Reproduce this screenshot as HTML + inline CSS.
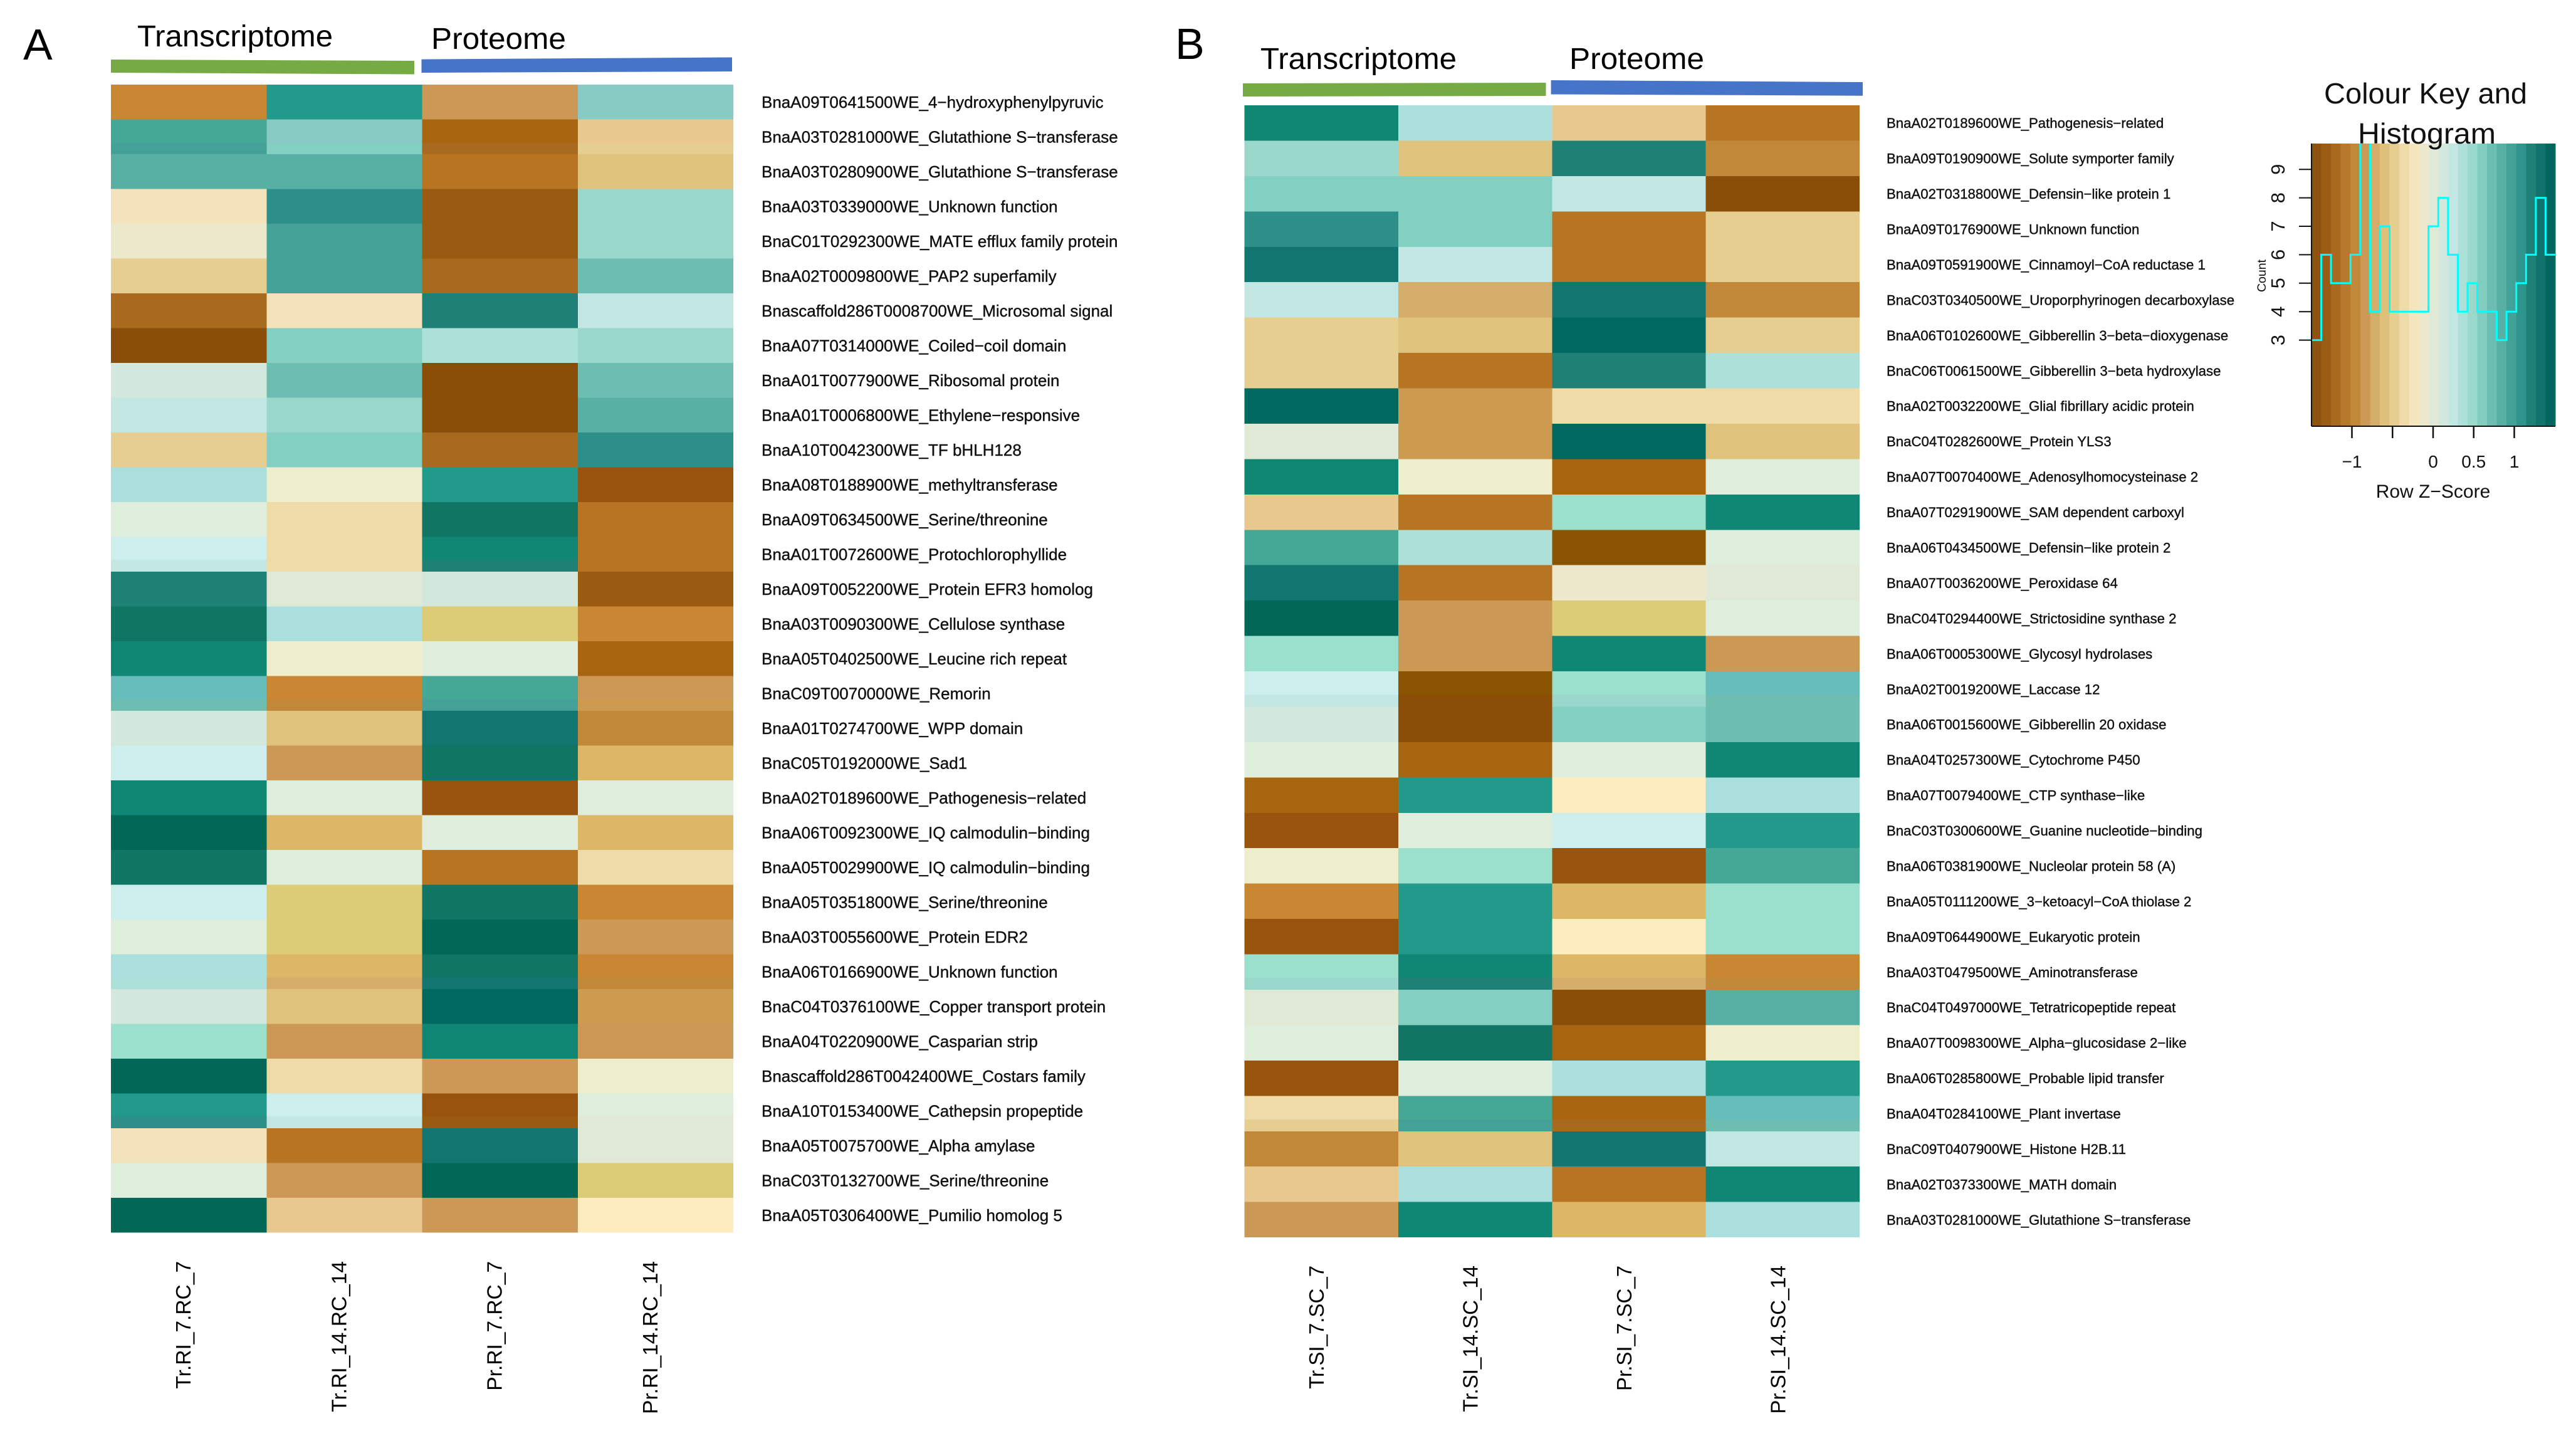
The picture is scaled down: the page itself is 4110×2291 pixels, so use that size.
<!DOCTYPE html>
<html lang="en">
<head>
<meta charset="utf-8">
<title>Transcriptome and proteome heatmaps</title>
<style>
html,body{margin:0;padding:0;background:#fff;width:4110px;height:2291px;overflow:hidden}
svg{display:block;font-family:"Liberation Sans",sans-serif}
</style>
</head>
<body>
<svg id="figure" xmlns="http://www.w3.org/2000/svg" width="4110" height="2291" viewBox="0 0 4110 2291">
  <rect x="0" y="0" width="4110" height="2291" fill="#ffffff"/>
  <text x="37" y="95" font-size="70" fill="#000">A</text>
  <text x="1875" y="94" font-size="70" fill="#000">B</text>

  <text x="219" y="74" font-size="48" textLength="312" lengthAdjust="spacingAndGlyphs" fill="#000">Transcriptome</text>
  <text x="688" y="78" font-size="48" textLength="215" lengthAdjust="spacingAndGlyphs" fill="#000">Proteome</text>
  <polygon points="177,95 661,97 661,118.5 177,116" fill="#76aa45"/>
  <polygon points="672.5,94.6 1168,91.5 1168,114 672.5,116" fill="#4674c8"/>

  <text x="2011" y="110" font-size="48" textLength="313" lengthAdjust="spacingAndGlyphs" fill="#000">Transcriptome</text>
  <text x="2504" y="110" font-size="48" textLength="215" lengthAdjust="spacingAndGlyphs" fill="#000">Proteome</text>
  <polygon points="1983,133 2466.5,132 2466.5,153 1983,154" fill="#76aa45"/>
  <polygon points="2474.6,128 2972,131 2972,152.7 2474.6,150.5" fill="#4674c8"/>

  <g id="panel-a"></g>
  <g id="panel-b"></g>
  <g id="colour-key"></g>
</svg>
<script>
// Panel A data: row z-scores per sample
const rowLabelsA = ["BnaA09T0641500WE_4−hydroxyphenylpyruvic","BnaA03T0281000WE_Glutathione S−transferase","BnaA03T0280900WE_Glutathione S−transferase","BnaA03T0339000WE_Unknown function","BnaC01T0292300WE_MATE efflux family protein","BnaA02T0009800WE_PAP2 superfamily","Bnascaffold286T0008700WE_Microsomal signal","BnaA07T0314000WE_Coiled−coil domain","BnaA01T0077900WE_Ribosomal protein","BnaA01T0006800WE_Ethylene−responsive","BnaA10T0042300WE_TF bHLH128","BnaA08T0188900WE_methyltransferase","BnaA09T0634500WE_Serine/threonine","BnaA01T0072600WE_Protochlorophyllide","BnaA09T0052200WE_Protein EFR3 homolog","BnaA03T0090300WE_Cellulose synthase","BnaA05T0402500WE_Leucine rich repeat","BnaC09T0070000WE_Remorin","BnaA01T0274700WE_WPP domain","BnaC05T0192000WE_Sad1","BnaA02T0189600WE_Pathogenesis−related","BnaA06T0092300WE_IQ calmodulin−binding","BnaA05T0029900WE_IQ calmodulin−binding","BnaA05T0351800WE_Serine/threonine","BnaA03T0055600WE_Protein EDR2","BnaA06T0166900WE_Unknown function","BnaC04T0376100WE_Copper transport protein","BnaA04T0220900WE_Casparian strip","Bnascaffold286T0042400WE_Costars family","BnaA10T0153400WE_Cathepsin propeptide","BnaA05T0075700WE_Alpha amylase","BnaC03T0132700WE_Serine/threonine","BnaA05T0306400WE_Pumilio homolog 5"];
const sampleLabelsA = ["Tr.RI_7.RC_7","Tr.RI_14.RC_14","Pr.RI_7.RC_7","Pr.RI_14.RC_14"];
const trRi7 = [-.95,.88,.82,-.29,-.10,-.49,-1.14,-1.47,.10,.23,-.49,.29,.03,.16,1.14,1.34,1.21,.75,.10,.16,1.21,1.47,1.34,.16,.03,.29,.10,.42,1.47,1.08,-.29,.03,1.47];
const trRi14 = [1.08,.55,.82,1.01,.95,.95,-.29,.62,.68,.49,.62,-.16,-.36,-.36,-.03,.29,-.16,-.95,-.55,-.88,.03,-.68,.03,-.62,-.62,-.68,-.55,-.88,-.36,.16,-1.08,-.88,-.42];
const prRi7 = [-.88,-1.21,-1.08,-1.27,-1.27,-1.14,1.14,.36,-1.47,-1.47,-1.14,1.08,1.34,1.21,.10,-.62,.03,.88,1.27,1.34,-1.34,.03,-1.08,1.34,1.47,1.34,1.40,1.21,-.88,-1.34,1.27,1.47,-.88];
const prRi14 = [.55,-.42,-.55,.49,.49,.68,.23,.49,.68,.82,1.01,-1.34,-1.08,-1.08,-1.27,-.95,-1.21,-.88,-1.01,-.68,.03,-.68,-.36,-.95,-.88,-.95,-.82,-.88,-.16,.03,-.03,-.62,-.23];
// Lower-third bands that shift within a row in panel A
const bandRowsA = [1,13,17,25,29];
const bandTrRi7 = [.95,.23,.68,.36,1.01];
const bandTrRi14 = [.62,-.36,-1.01,-.75,.23];
const bandPrRi7 = [-1.14,1.14,.95,1.27,-1.27];
const bandPrRi14 = [-.49,-1.08,-.82,-1.01,-.03];

// Panel B data
const rowLabelsB = ["BnaA02T0189600WE_Pathogenesis−related","BnaA09T0190900WE_Solute symporter family","BnaA02T0318800WE_Defensin−like protein 1","BnaA09T0176900WE_Unknown function","BnaA09T0591900WE_Cinnamoyl−CoA reductase 1","BnaC03T0340500WE_Uroporphyrinogen decarboxylase","BnaA06T0102600WE_Gibberellin 3−beta−dioxygenase","BnaC06T0061500WE_Gibberellin 3−beta hydroxylase","BnaA02T0032200WE_Glial fibrillary acidic protein","BnaC04T0282600WE_Protein YLS3","BnaA07T0070400WE_Adenosylhomocysteinase 2","BnaA07T0291900WE_SAM dependent carboxyl","BnaA06T0434500WE_Defensin−like protein 2","BnaA07T0036200WE_Peroxidase 64","BnaC04T0294400WE_Strictosidine synthase 2","BnaA06T0005300WE_Glycosyl hydrolases","BnaA02T0019200WE_Laccase 12","BnaA06T0015600WE_Gibberellin 20 oxidase","BnaA04T0257300WE_Cytochrome P450","BnaA07T0079400WE_CTP synthase−like","BnaC03T0300600WE_Guanine nucleotide−binding","BnaA06T0381900WE_Nucleolar protein 58 (A)","BnaA05T0111200WE_3−ketoacyl−CoA thiolase 2","BnaA09T0644900WE_Eukaryotic protein","BnaA03T0479500WE_Aminotransferase","BnaC04T0497000WE_Tetratricopeptide repeat","BnaA07T0098300WE_Alpha−glucosidase 2−like","BnaA06T0285800WE_Probable lipid transfer","BnaA04T0284100WE_Plant invertase","BnaC09T0407900WE_Histone H2B.11","BnaA02T0373300WE_MATH domain","BnaA03T0281000WE_Glutathione S−transferase"];
const sampleLabelsB = ["Tr.SI_7.SC_7","Tr.SI_14.SC_14","Pr.SI_7.SC_7","Pr.SI_14.SC_14"];
const trSi7 = [1.21,.49,.62,1.01,1.27,.23,-.49,-.49,1.40,-.03,1.21,-.42,.88,1.27,1.47,.42,.16,.10,.03,-1.21,-1.34,-.16,-.95,-1.34,.42,-.03,.03,-1.34,-.36,-1.01,-.42,-.88];
const trSi14 = [.29,-.55,.62,.62,.23,-.75,-.55,-1.08,-.82,-.82,-.16,-1.08,.36,-1.08,-.88,-.88,-1.40,-1.47,-1.21,1.08,.03,.42,1.08,1.08,1.21,.62,1.34,.03,.88,-.55,.29,1.21];
const prSi7 = [-.42,1.14,.23,-1.08,-1.08,1.27,1.40,1.14,-.36,1.40,-1.21,.42,-1.40,-.10,-.62,1.21,.42,.62,.03,-.23,.16,-1.34,-.68,-.23,-.68,-1.47,-1.21,.29,-1.21,1.27,-1.08,-.68];
const prSi14 = [-1.08,-1.01,-1.47,-.49,-.49,-1.01,-.49,.36,-.36,-.55,.03,1.21,.03,-.03,.03,-.88,.75,.68,1.21,.29,1.08,.88,.42,.42,-.95,.82,-.16,1.08,.75,.23,1.21,.29];
const bandRowsB = [16,24,28];
const bandTrSi7 = [.23,.49,-.49];
const bandTrSi14 = [-1.47,1.14,.95];
const bandPrSi7 = [.49,-.75,-1.14];
const bandPrSi14 = [.68,-1.01,.68];

// Colour key histogram: count per bin, and axis tick labels
const histCounts = [3,6,5,5,6,10,4,7,4,4,4,4,7,8,6,4,5,4,4,3,4,5,6,8,6];
const histCountTicks = [3,4,5,6,7,8,9];
const zTicks = [-1,-0.5,0,0.5,1];
const zTickLabels = ["−1","","0","0.5","1"];

// Colour levels (styles, not data)
const heatLevels = ["#8b4e08","#8a5402","#98530f","#995a12","#a86510","#a86a1e","#b77524","#c18839","#c98733","#cc9855","#cc9b50","#d4ae68","#dcb866","#dccb77","#dfc27c","#e6cd90","#e9c88f","#efdba7","#f4e2ba","#fdecbd","#eeeecd","#ece8cb","#e0e8d6","#dfeddc","#d2e8dc","#ccefee","#c2e7e2","#aadfde","#ade0d9","#9ae0cc","#9ad7cb","#88cbc5","#83cfc2","#6dbdb1","#67bdba","#58b0a4","#45a897","#43a197","#2e8f88","#22998a","#1f8176","#108774","#13756f","#117564","#016860","#016858"];
const keyLevels = ["#8f5310","#9a5c14","#a86a1e","#b7792c","#c08838","#cc9a55","#d4ae68","#dfc07a","#e6cd90","#efdba7","#f4e5bc","#ece8cb","#e0e8d6","#d2e8dc","#c2e7e2","#aee0da","#9bd9cc","#83cdc0","#6dbeb2","#58b0a4","#43a298","#2f948b","#1f8076","#11736b","#01665e"];

const SVGNS = "http://www.w3.org/2000/svg";
const Z_MIN = -1.5, Z_MAX = 1.5;

function heatColour(z) {
  let i = Math.floor((z - Z_MIN) / (Z_MAX - Z_MIN) * heatLevels.length);
  i = Math.max(0, Math.min(heatLevels.length - 1, i));
  return heatLevels[i];
}

function drawPanel(root, geom, rowLabels, sampleLabels, series, bandRows, bandSeries) {
  const xAxis = function (col) { return geom.left + col * geom.colW; };
  const yAxis = function (row) { return geom.top + row * geom.rowH; };

  series.forEach(function (values, col) {
    values.forEach(function (z, row) {
      const cell = document.createElementNS(SVGNS, "rect");
      
      
      cell.setAttribute("x", xAxis(col));
      cell.setAttribute("y", yAxis(row));
      cell.setAttribute("width", geom.colW);
      cell.setAttribute("height", geom.rowH);
      cell.setAttribute("fill", heatColour(z));
      cell.setAttribute("shape-rendering", "crispEdges");
      root.appendChild(cell);
    });
  });

  bandSeries.forEach(function (values, col) {
    values.forEach(function (z, k) {
      const band = document.createElementNS(SVGNS, "rect");
      
      
      band.setAttribute("x", xAxis(col));
      band.setAttribute("y", yAxis(bandRows[k] + 2 / 3));
      band.setAttribute("width", geom.colW);
      band.setAttribute("height", geom.rowH / 3);
      band.setAttribute("fill", heatColour(z));
      band.setAttribute("shape-rendering", "crispEdges");
      root.appendChild(band);
    });
  });

  rowLabels.forEach(function (label, row) {
    const t = document.createElementNS(SVGNS, "text");
    
    
    t.setAttribute("x", geom.labelX);
    t.setAttribute("y", yAxis(row) + geom.rowH / 2 + geom.labelDy);
    t.setAttribute("font-size", geom.labelSize);
    t.setAttribute("fill", "#111");
    t.setAttribute("stroke", "#111");
    t.setAttribute("stroke-width", "0.4");
    t.textContent = label;
    root.appendChild(t);
  });

  sampleLabels.forEach(function (label, col) {
    const t = document.createElementNS(SVGNS, "text");
    const cx = xAxis(col) + geom.colW / 2 + geom.sampleDx;
    
    
    t.setAttribute("x", cx);
    t.setAttribute("y", geom.sampleY);
    t.setAttribute("transform", "rotate(-90 " + cx + " " + geom.sampleY + ")");
    t.setAttribute("text-anchor", "end");
    t.setAttribute("font-size", geom.sampleSize);
    t.setAttribute("fill", "#000");
    t.textContent = label;
    root.appendChild(t);
  });
}

drawPanel(document.getElementById("panel-a"),
  {left:177, colW:248.25, top:135, rowH:55.5, labelX:1215, labelDy:9, labelSize:26, sampleDx:3, sampleY:2012, sampleSize:33.5},
  rowLabelsA, sampleLabelsA, [trRi7, trRi14, prRi7, prRi14],
  bandRowsA, [bandTrRi7, bandTrRi14, bandPrRi7, bandPrRi14]);

drawPanel(document.getElementById("panel-b"),
  {left:1985.5, colW:245.4, top:168, rowH:56.44, labelX:3010, labelDy:8, labelSize:22.2, sampleDx:4, sampleY:2019, sampleSize:33},
  rowLabelsB, sampleLabelsB, [trSi7, trSi14, prSi7, prSi14],
  bandRowsB, [bandTrSi7, bandTrSi14, bandPrSi7, bandPrSi14]);

// Colour key
(function () {
  const root = document.getElementById("colour-key");
  const left = 3688, right = 4077, top = 229, bottom = 680;
  const zX = function (z) { return 3882 + z * 129.5; };
  const binX = function (i) { return left + i * (right - left) / histCounts.length; };
  const countY = function (c) { return 542.6 - (c - 3) * 45.4; };

  keyLevels.forEach(function (colour, i) {
    const r = document.createElementNS(SVGNS, "rect");
    
    
    r.setAttribute("x", left + i * (right - left) / keyLevels.length);
    r.setAttribute("y", top);
    r.setAttribute("width", (right - left) / keyLevels.length + 0.5);
    r.setAttribute("height", bottom - top);
    r.setAttribute("fill", colour);
    r.setAttribute("shape-rendering", "crispEdges");
    root.appendChild(r);
  });

  const clip = document.createElementNS(SVGNS, "clipPath");
  clip.setAttribute("id", "key-clip");
  const clipRect = document.createElementNS(SVGNS, "rect");
  clipRect.setAttribute("x", left);
  clipRect.setAttribute("y", top);
  clipRect.setAttribute("width", right - left);
  clipRect.setAttribute("height", bottom - top);
  clip.appendChild(clipRect);
  root.appendChild(clip);

  let d = "";
  histCounts.forEach(function (c, i) {
    d += (i === 0 ? "M" : "L") + binX(i) + " " + countY(c) + "L" + binX(i + 1) + " " + countY(c);
  });
  const hist = document.createElementNS(SVGNS, "path");
  
  
  hist.setAttribute("d", d);
  hist.setAttribute("fill", "none");
  hist.setAttribute("stroke", "#00ffff");
  hist.setAttribute("stroke-width", "3");
  hist.setAttribute("clip-path", "url(#key-clip)");
  root.appendChild(hist);

  const line = function (x1, y1, x2, y2, name, width) {
    const l = document.createElementNS(SVGNS, "line");
    
    
    l.setAttribute("x1", x1);
    l.setAttribute("y1", y1);
    l.setAttribute("x2", x2);
    l.setAttribute("y2", y2);
    l.setAttribute("stroke", "#111");
    l.setAttribute("stroke-width", width);
    root.appendChild(l);
  };
  line(left, top, left, bottom, 'key-y-axis-line', 2);
  line(left, bottom, right, bottom, 'key-x-axis-line', 2);

  histCountTicks.forEach(function (c) {
    line(3668, countY(c), left, countY(c), 'key-y-tick', 2);
    const t = document.createElementNS(SVGNS, "text");
    
    
    t.setAttribute("x", 3645);
    t.setAttribute("y", countY(c));
    t.setAttribute("transform", "rotate(-90 3645 " + countY(c) + ")");
    t.setAttribute("text-anchor", "middle");
    t.setAttribute("font-size", 31);
    t.setAttribute("fill", "#111");
    t.textContent = String(c);
    root.appendChild(t);
  });

  zTicks.forEach(function (z, i) {
    line(zX(z), bottom, zX(z), 699, 'key-x-tick', 2.5);
    if (!zTickLabels[i]) { return; }
    const t = document.createElementNS(SVGNS, "text");
    
    
    t.setAttribute("x", zX(z));
    t.setAttribute("y", 746);
    t.setAttribute("text-anchor", "middle");
    t.setAttribute("font-size", 28);
    t.setAttribute("fill", "#111");
    t.textContent = zTickLabels[i];
    root.appendChild(t);
  });

  const addText = function (str, name, x, y, size, opts) {
    const t = document.createElementNS(SVGNS, "text");
    
    
    t.setAttribute("x", x);
    t.setAttribute("y", y);
    t.setAttribute("font-size", size);
    t.setAttribute("fill", "#111");
    if (opts.anchor) { t.setAttribute("text-anchor", opts.anchor); }
    if (opts.length) {
      t.setAttribute("textLength", opts.length);
      t.setAttribute("lengthAdjust", "spacingAndGlyphs");
    }
    if (opts.rotate) { t.setAttribute("transform", "rotate(-90 " + x + " " + y + ")"); }
    t.textContent = str;
    root.appendChild(t);
  };
  addText("Count", 'key-y-axis-title', 3615, 440, 19.5, {anchor:"middle", rotate:true});
  addText("Row Z−Score", 'key-x-axis-title', 3882, 794, 30, {anchor:"middle"});
  addText("Colour Key and", 'key-title-line-1', 3708, 165, 46, {length:324});
  addText("Histogram", 'key-title-line-2', 3762, 229, 46, {length:220});
})();
</script>
</body>
</html>
